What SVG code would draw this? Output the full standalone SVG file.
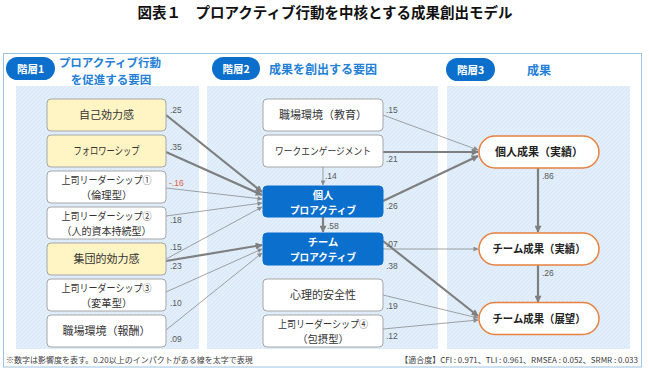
<svg xmlns="http://www.w3.org/2000/svg" width="649" height="370" viewBox="0 0 649 370">
<defs>
<pattern id="hatch" width="4" height="4" patternUnits="userSpaceOnUse">
<rect width="4" height="4" fill="#e2effb"/>
<path d="M0,4 L4,0" stroke="#d2e5f7" stroke-width="0.8"/>
</pattern>
<marker id="ahThick" viewBox="0 0 10 10" refX="9" refY="5" markerWidth="8" markerHeight="7" markerUnits="userSpaceOnUse" orient="auto">
<path d="M0,0 L10,5 L0,10 z" fill="#7f7f7f"/>
</marker>
<marker id="ahThin" viewBox="0 0 10 10" refX="9" refY="5" markerWidth="6" markerHeight="5" markerUnits="userSpaceOnUse" orient="auto">
<path d="M0,0 L10,5 L0,10 z" fill="#8c8c8c"/>
</marker>
<style>
.jp{font-family:"Noto Sans CJK JP","Noto Sans",sans-serif;}
.title{font-size:14.5px;font-weight:bold;fill:#111;}
.badge{fill:#0b6fcb;}
.badgeT{font-size:10.5px;font-weight:bold;fill:#fff;}
.head{font-size:12px;font-weight:bold;fill:#2380d6;}
.h2{font-size:11.5px;}
.bg{fill:url(#hatch);}
.box{fill:#fff;stroke:#a6a6a6;stroke-width:1;}
.ybox{fill:#fff5c4;stroke:#a6a6a6;stroke-width:1;}
.bbox{fill:#0a6fcd;stroke:#0a6fcd;stroke-width:1;}
.pill{fill:#fff;stroke:#e8803f;stroke-width:1.5;}
.nt{font-size:11px;fill:#333;}
.n2{font-size:10.3px;fill:#333;}
.bt{font-size:10.3px;font-weight:bold;fill:#fff;}
.pt{font-size:11px;font-weight:bold;fill:#222;}
.lbl{font-family:"Liberation Sans",Arial,sans-serif;font-size:8.5px;fill:#595959;}
.neg{fill:#e0603a;}
.thick{stroke:#7f7f7f;stroke-width:2.2;fill:none;marker-end:url(#ahThick);}
.thin{stroke:#8c8c8c;stroke-width:0.8;fill:none;marker-end:url(#ahThin);}
.foot{font-size:8px;fill:#404040;}
</style>
</defs>
<rect width="649" height="370" fill="#fff"/>
<text class="jp title" x="325" y="18" text-anchor="middle">図表１　プロアクティブ行動を中核とする成果創出モデル</text>
<rect x="3.5" y="53.5" width="638" height="313.5" fill="none" stroke="#9dc3e6" stroke-width="1"/>

<g id="backgrounds">
<rect class="bg" x="16" y="86" width="183" height="263"/>
<rect class="bg" x="207" y="86" width="231" height="263"/>
<rect class="bg" x="447" y="86" width="183" height="263"/>
</g>

<g id="header1">
<rect class="badge" x="6" y="57" width="49" height="23" rx="11.5"/>
<text class="jp badgeT" x="30.5" y="72.5" text-anchor="middle">階層1</text>
<text class="jp head h2" text-anchor="middle"><tspan x="110" y="67">プロアクティブ行動</tspan><tspan x="111" y="83.5">を促進する要因</tspan></text>
</g>
<g id="header2">
<rect class="badge" x="212" y="57" width="48" height="23" rx="11.5"/>
<text class="jp badgeT" x="236" y="72.5" text-anchor="middle">階層2</text>
<text class="jp head" x="323" y="74" text-anchor="middle">成果を創出する要因</text>
</g>
<g id="header3">
<rect class="badge" x="446" y="58" width="49" height="23" rx="11.5"/>
<text class="jp badgeT" x="470.5" y="73.5" text-anchor="middle">階層3</text>
<text class="jp head" x="539" y="75" text-anchor="middle">成果</text>
</g>

<g id="connectors">
<path class="thick" d="M166,115 L262,192"/>
<path class="thick" d="M166,152 L262,195"/>
<path class="thin" d="M166,188 L262,199"/>
<path class="thin" d="M166,216 L262,203"/>
<path class="thin" d="M166,259 L262,207"/>
<path class="thick" d="M166,261 L262,245"/>
<path class="thin" d="M166,292 L262,249"/>
<path class="thin" d="M166,330 L262,253"/>
<path class="thin" d="M323,167 L323,185"/>
<path class="thick" d="M323,217 L323,232"/>
<path class="thin" d="M383,115 L478,150"/>
<path class="thick" d="M383,152 L478,152"/>
<path class="thick" d="M383,201 L478,156"/>
<path class="thin" d="M383,249 L478,249"/>
<path class="thick" d="M383,241 L478,316"/>
<path class="thin" d="M383,295 L478,318"/>
<path class="thin" d="M383,329 L478,320"/>
<path class="thick" d="M538,168 L538,232"/>
<path class="thick" d="M538,265 L538,302"/>
</g>

<g id="labels">
<text class="lbl" x="170" y="113">.25</text>
<text class="lbl" x="170" y="150">.35</text>
<text class="lbl neg" x="169" y="186">-.16</text>
<text class="lbl" x="170" y="223">.18</text>
<text class="lbl" x="170" y="250">.15</text>
<text class="lbl" x="170" y="269">.23</text>
<text class="lbl" x="170" y="306">.10</text>
<text class="lbl" x="170" y="342">.09</text>
<text class="lbl" x="386" y="113">.15</text>
<text class="lbl" x="386" y="162">.21</text>
<text class="lbl" x="325" y="179">.14</text>
<text class="lbl" x="386" y="209">.26</text>
<text class="lbl" x="327" y="229">.58</text>
<text class="lbl" x="386" y="247">.07</text>
<text class="lbl" x="386" y="269">.38</text>
<text class="lbl" x="386" y="309">.19</text>
<text class="lbl" x="386" y="339">.12</text>
<text class="lbl" x="542" y="179">.86</text>
<text class="lbl" x="542" y="276">.26</text>
</g>

<g id="n-jiko">
<rect class="ybox" x="47" y="99" width="119" height="32" rx="4"/>
<text class="jp nt" x="106.5" y="119" text-anchor="middle">自己効力感</text>
</g>
<g id="n-follower">
<rect class="ybox" x="47" y="135" width="119" height="32" rx="4"/>
<text class="jp nt" x="106.5" y="155" text-anchor="middle" textLength="66" lengthAdjust="spacingAndGlyphs">フォロワーシップ</text>
</g>
<g id="n-leader1">
<rect class="box" x="47" y="171" width="119" height="32" rx="4"/>
<text class="jp n2" text-anchor="middle"><tspan x="106.5" y="184" textLength="90" lengthAdjust="spacingAndGlyphs">上司リーダーシップ①</tspan><tspan x="106.5" y="199">（倫理型）</tspan></text>
</g>
<g id="n-leader2">
<rect class="box" x="47" y="207" width="119" height="32" rx="4"/>
<text class="jp n2" text-anchor="middle"><tspan x="106.5" y="220" textLength="90" lengthAdjust="spacingAndGlyphs">上司リーダーシップ②</tspan><tspan x="106.5" y="235" textLength="90" lengthAdjust="spacingAndGlyphs">（人的資本持続型）</tspan></text>
</g>
<g id="n-shudan">
<rect class="ybox" x="47" y="243" width="119" height="32" rx="4"/>
<text class="jp nt" x="106.5" y="263" text-anchor="middle">集団的効力感</text>
</g>
<g id="n-leader3">
<rect class="box" x="47" y="279" width="119" height="32" rx="4"/>
<text class="jp n2" text-anchor="middle"><tspan x="106.5" y="292" textLength="90" lengthAdjust="spacingAndGlyphs">上司リーダーシップ③</tspan><tspan x="106.5" y="307">（変革型）</tspan></text>
</g>
<g id="n-houshu">
<rect class="box" x="47" y="315" width="119" height="32" rx="4"/>
<text class="jp nt" x="106.5" y="335" text-anchor="middle">職場環境（報酬）</text>
</g>

<g id="n-kyoiku">
<rect class="box" x="263" y="99" width="120" height="32" rx="4"/>
<text class="jp nt" x="323" y="119" text-anchor="middle">職場環境（教育）</text>
</g>
<g id="n-engage">
<rect class="box" x="263" y="135" width="120" height="32" rx="4"/>
<text class="jp nt" x="323" y="155" text-anchor="middle" style="font-size:10px" textLength="96" lengthAdjust="spacingAndGlyphs">ワークエンゲージメント</text>
</g>
<g id="n-kojin">
<rect class="bbox" x="263" y="186" width="120" height="31" rx="4"/>
<text class="jp bt" text-anchor="middle"><tspan x="323" y="198.5">個人</tspan><tspan x="323" y="213.5" textLength="66" lengthAdjust="spacingAndGlyphs">プロアクティブ</tspan></text>
</g>
<g id="n-team">
<rect class="bbox" x="263" y="233" width="120" height="32" rx="4"/>
<text class="jp bt" text-anchor="middle"><tspan x="323" y="246">チーム</tspan><tspan x="323" y="261" textLength="66" lengthAdjust="spacingAndGlyphs">プロアクティブ</tspan></text>
</g>
<g id="n-anzen">
<rect class="box" x="263" y="279" width="120" height="32" rx="4"/>
<text class="jp nt" x="323" y="299" text-anchor="middle">心理的安全性</text>
</g>
<g id="n-leader4">
<rect class="box" x="263" y="315" width="120" height="32" rx="4"/>
<text class="jp n2" text-anchor="middle"><tspan x="323" y="328" textLength="90" lengthAdjust="spacingAndGlyphs">上司リーダーシップ④</tspan><tspan x="323" y="343">（包摂型）</tspan></text>
</g>

<g id="n-kojin-seika">
<rect class="pill" x="479" y="136" width="120" height="32" rx="16"/>
<text class="jp pt" x="539" y="156" text-anchor="middle">個人成果（実績）</text>
</g>
<g id="n-team-jisseki">
<rect class="pill" x="479" y="233" width="120" height="32" rx="16"/>
<text class="jp pt" x="539" y="253" text-anchor="middle" textLength="93" lengthAdjust="spacingAndGlyphs">チーム成果（実績）</text>
</g>
<g id="n-team-tenbou">
<rect class="pill" x="479" y="302.5" width="120" height="32" rx="16"/>
<text class="jp pt" x="539" y="322.5" text-anchor="middle" textLength="93" lengthAdjust="spacingAndGlyphs">チーム成果（展望）</text>
</g>

<text class="jp foot" x="6" y="363">※数字は影響度を表す。0.20以上のインパクトがある線を太字で表現</text>
<text class="jp foot" x="638" y="363" text-anchor="end">【適合度】CFI : 0.971、TLI : 0.961、RMSEA : 0.052、SRMR : 0.033</text>
</svg>
